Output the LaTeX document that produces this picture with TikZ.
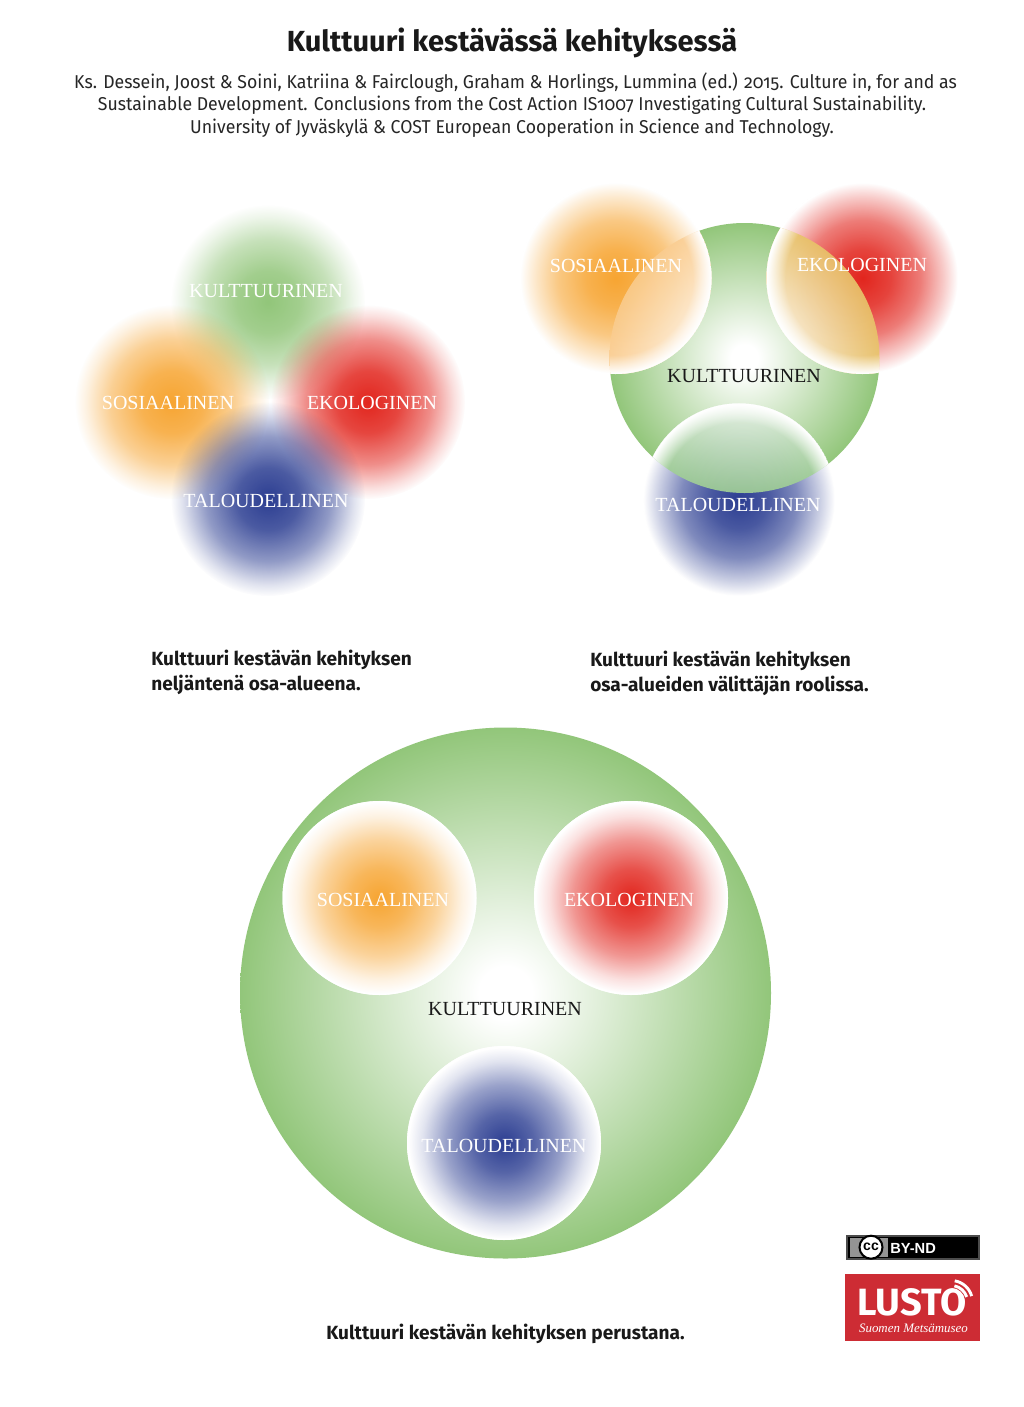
\documentclass[tikz,border=0pt]{standalone}
\usepackage{fontspec}
\setmainfont{Liberation Serif}
\newfontfamily\headfont[Numbers=OldStyle]{Fira Sans}
\newfontfamily\reffont[Numbers=OldStyle,FakeStretch=0.95]{Fira Sans}
\newfontfamily\badgefont{Liberation Sans}
\usetikzlibrary{fadings}
\definecolor{cgreen}{RGB}{146,198,122}
\definecolor{corange}{RGB}{247,165,50}
\definecolor{cred}{RGB}{226,38,30}
\definecolor{cblue}{RGB}{44,62,146}
\definecolor{rimorange}{RGB}{250,205,145}
\definecolor{rimred}{RGB}{232,195,105}
\definecolor{rimblue}{RGB}{160,206,150}
\definecolor{lustored}{RGB}{205,44,52}
\pgfdeclareradialshading{blobalpha}{\pgfpointorigin}{color(0bp)=(pgftransparent!0); color(8bp)=(pgftransparent!15); color(16bp)=(pgftransparent!48); color(22bp)=(pgftransparent!85); color(25bp)=(pgftransparent!100); color(50bp)=(pgftransparent!100)}
\pgfdeclarefading{blobfade}{\pgfuseshading{blobalpha}}
\pgfdeclareradialshading{maskalpha}{\pgfpointorigin}{color(0bp)=(pgftransparent!100); color(7.5bp)=(pgftransparent!80); color(15bp)=(pgftransparent!48); color(21bp)=(pgftransparent!14); color(24.5bp)=(pgftransparent!0); color(50bp)=(pgftransparent!0)}
\pgfdeclarefading{maskfade}{\pgfuseshading{maskalpha}}
\pgfdeclareradialshading{widemaskalpha}{\pgfpointorigin}{color(0bp)=(pgftransparent!100); color(7.5bp)=(pgftransparent!86); color(15bp)=(pgftransparent!60); color(21bp)=(pgftransparent!24); color(24.7bp)=(pgftransparent!0); color(50bp)=(pgftransparent!0)}
\pgfdeclarefading{widemaskfade}{\pgfuseshading{widemaskalpha}}
\pgfdeclareradialshading{rimalpha}{\pgfpointorigin}{color(0bp)=(pgftransparent!100); color(20bp)=(pgftransparent!100); color(24.7bp)=(pgftransparent!0); color(50bp)=(pgftransparent!0)}
\pgfdeclarefading{rimfade}{\pgfuseshading{rimalpha}}
\pgfdeclareradialshading{discshade}{\pgfpointorigin}{color(0bp)=(white); color(2.5bp)=(white); color(25bp)=(cgreen); color(50bp)=(cgreen)}
\pgfdeclareradialshading{discorange}{\pgfpointorigin}{color(0bp)=(white); color(2.5bp)=(white); color(25bp)=(rimorange); color(50bp)=(rimorange)}
\pgfdeclareradialshading{discred}{\pgfpointorigin}{color(0bp)=(white); color(2.5bp)=(white); color(25bp)=(rimred); color(50bp)=(rimred)}
\pgfdeclareradialshading{discblue}{\pgfpointorigin}{color(0bp)=(white); color(2.5bp)=(white); color(25bp)=(rimblue); color(50bp)=(rimblue)}
\tikzset{
  softblob/.style={fill=#1,path fading=blobfade},
  whitemask/.style={fill=white,path fading=maskfade},
  widemask/.style={fill=white,path fading=widemaskfade},
  rimmask/.style={fill=white,path fading=rimfade},
  disc/.style={shading=discshade},
  lab/.style={font=\fontsize{15}{15}\selectfont,text=white,inner sep=0pt},
  labdark/.style={font=\fontsize{15}{15}\selectfont,text=black!90,inner sep=0pt},
  caption/.style={font=\fontsize{14.3}{14.3}\headfont\bfseries,text=black!90,inner sep=0pt,anchor=base west},
  refline/.style={font=\fontsize{13.95}{13.95}\reffont,text=black!85,inner sep=0pt,anchor=base},
}
% x, y, r, colour, overlay shading, overlay opacity
\newcommand{\overlapblob}[6]{%
  \fill[white] (#1,#2) circle (#3);
  \fill[#4] (#1,#2) circle (#3-0.8);
  \path[widemask] (#1,#2) circle (#3);
  \begin{scope}
    \clip (#1,#2) circle (#3);
    \path[shading=#5,opacity=#6] (744.5,358) circle (135);
    \clip (744.5,358) circle (135);
    \path[rimmask] (#1,#2) circle (#3);
  \end{scope}
}
\newcommand{\plainblob}[4]{%
  \fill[white] (#1,#2) circle (#3);
  \fill[#4] (#1,#2) circle (#3-0.8);
  \path[whitemask] (#1,#2) circle (#3);
}
\begin{document}
\begin{tikzpicture}[x=0.75pt,y=-0.75pt]
\useasboundingbox (0,0) rectangle (1024,1407);
\fill[white] (0,0) rectangle (1024,1407);

% heading
\node[font=\fontsize{21.8}{21.8}\headfont\bfseries,text=black!90,inner sep=0pt,anchor=base] (title) at (512,51) {Kulttuuri kestävässä kehityksessä};
\node[refline] (ref1) at (515.5,88) {Ks. Dessein, Joost \& Soini, Katriina \& Fairclough, Graham \& Horlings, Lummina (ed.) 2015. Culture in, for and as};
\node[refline] (ref2) at (512,110.5) {Sustainable Development. Conclusions from the Cost Action IS1007 Investigating Cultural Sustainability.};
\node[refline] (ref3) at (512,133) {University of Jyväskylä \& COST European Cooperation in Science and Technology.};

% first diagram
\path[softblob=cgreen] (268,302) circle (97);
\path[softblob=corange] (172,402) circle (97);
\path[softblob=cred] (368,402) circle (97);
\path[softblob=cblue] (268,499) circle (97);
\node[lab] (a1) at (266,291) {KULTTUURINEN};
\node[lab] (a2) at (168,402.5) {SOSIAALINEN};
\node[lab] (a3) at (372,402.5) {EKOLOGINEN};
\node[lab] (a4) at (266,501) {TALOUDELLINEN};
\node[caption] (c1) at (151,665.5) {Kulttuuri kestävän kehityksen};
\node[caption] (c2) at (151,690.5) {neljäntenä osa-alueena.};

% second diagram
\path[disc] (744.5,358) circle (135);
\overlapblob{615.5}{278}{96}{corange}{discorange}{.85}
\overlapblob{862.5}{278}{96}{cred}{discred}{.92}
\overlapblob{739}{500}{96.5}{cblue}{discblue}{.92}
\node[lab] (b2) at (616,266) {SOSIAALINEN};
\node[lab] (b3) at (862,264.5) {EKOLOGINEN};
\node[labdark] (b1) at (744,376) {KULTTUURINEN};
\node[lab] (b4) at (738,505) {TALOUDELLINEN};
\node[caption] (c3) at (590,666.5) {Kulttuuri kestävän kehityksen};
\node[caption] (c4) at (590,691.5) {osa-alueiden välittäjän roolissa.};

% third diagram
\path[disc] (505.5,993) circle (265.5);
\plainblob{379.5}{898}{97}{corange}
\plainblob{631}{898}{97}{cred}
\plainblob{504}{1143}{97}{cblue}
\node[lab] (d2) at (383,900) {SOSIAALINEN};
\node[lab] (d3) at (629,899.5) {EKOLOGINEN};
\node[labdark] (d1) at (505,1009.5) {KULTTUURINEN};
\node[lab] (d4) at (504,1146) {TALOUDELLINEN};
\node[caption,anchor=base] (c5) at (505.5,1339) {Kulttuuri kestävän kehityksen perustana.};

% licence badge
\fill[black!70] (846,1234.5) rectangle (980,1260);
\fill[black] (848,1236.5) rectangle (978,1258);
\fill[black!42] (850,1238) rectangle (888,1256.5);
\fill[white,draw=black,line width=1.5pt] (871,1247.2) circle (11.5);
\node[font=\fontsize{10.5}{10.5}\badgefont\bfseries,text=black,inner sep=0pt] (ccmark) at (871,1247) {cc};
\node[font=\fontsize{11}{11}\badgefont\bfseries,text=white,inner sep=0pt,anchor=base west] (byline) at (890,1253) {BY-ND};

% museum logo
\fill[lustored] (845,1274) rectangle (980,1341);
\node[font=\fontsize{28.5}{28.5}\headfont\bfseries,text=white,inner sep=0pt,anchor=base west] (lusto) at (857,1315) {LUSTO};
\draw[lustored,line width=1.4pt] (951,1302) ++(-85:15.2) arc (-85:-10:15.2);
\draw[white,line width=2.2pt] (951,1302) ++(-78:16.5) arc (-78:-18:16.5);
\draw[white,line width=2.2pt] (951,1302) ++(-80:21.5) arc (-80:-16:21.5);
\node[font=\fontsize{9.7}{9.7}\selectfont\itshape,text=white,inner sep=0pt,anchor=base] (museum) at (913.5,1332.5) {Suomen Metsämuseo};
\end{tikzpicture}
\end{document}
